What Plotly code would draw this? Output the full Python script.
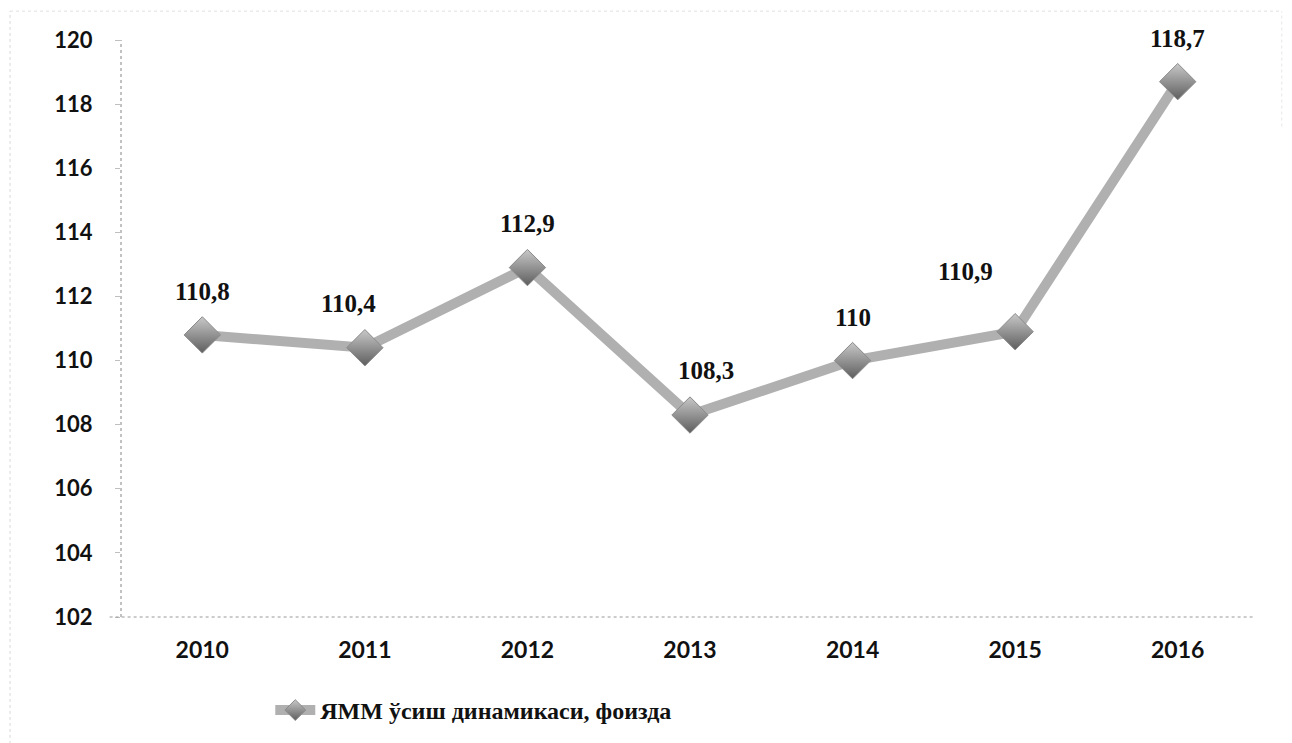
import plotly.graph_objects as go

years = ["2010", "2011", "2012", "2013", "2014", "2015", "2016"]
values = [110.8, 110.4, 112.9, 108.3, 110.0, 110.9, 118.7]
labels = ["110,8", "110,4", "112,9", "108,3", "110", "110,9", "118,7"]
series_name = "ЯММ ўсиш динамикаси, фоизда"
y_ticks = [102, 104, 106, 108, 110, 112, 114, 116, 118, 120]

# label offsets in pixels (xshift, yshift)
label_dx = [0, -16, 0, 16, 0, -50, 0]
label_dy = [43, 44, 44, 45, 43, 60, 43]

fig = go.Figure()
fig.add_trace(go.Scatter(
    x=years, y=values, name=series_name, mode="lines+markers",
    line=dict(color="#b0b0b0", width=10),
    marker=dict(symbol="diamond", size=28, color="#c8c8c8",
                gradient=dict(type="vertical", color="#5e5e5e"),
                line=dict(color="#8a8a8a", width=1)),
))

for i, (y, t, dx, dy) in enumerate(zip(values, labels, label_dx, label_dy)):
    fig.add_annotation(x=i, y=y, text=t, showarrow=False, xshift=dx, yshift=dy,
                       font=dict(family="Liberation Serif", size=25, color="#111111",
                                 weight="bold"))

dot = dict(color="#9a9a9a", width=1.2, dash="dot")
shapes = [
    dict(type="line", xref="paper", yref="paper", x0=0, x1=0, y0=0, y1=1, line=dot),
    dict(type="line", xref="paper", yref="paper", x0=-0.01, x1=0.9965, y0=0, y1=0, line=dot),
    # faint outer frame
    dict(type="line", xref="paper", yref="paper", x0=-0.0975, x1=-0.0975, y0=-0.22, y1=1.05,
         line=dict(color="#d8d8d8", width=1, dash="dot")),
    dict(type="line", xref="paper", yref="paper", x0=-0.0975, x1=1.02, y0=1.05, y1=1.05,
         line=dict(color="#e0e0e0", width=1, dash="dot")),
    dict(type="line", xref="paper", yref="paper", x0=1.02, x1=1.02, y0=0.85, y1=1.05,
         line=dict(color="#e6e6e6", width=1, dash="dot")),
]

fig.update_layout(
    width=1292, height=743,
    margin=dict(l=113, r=41, t=32, b=134),
    paper_bgcolor="white", plot_bgcolor="white",
    showlegend=True,
    legend=dict(orientation="h", x=0.31, xanchor="center", y=-0.162, yanchor="middle",
                font=dict(family="Liberation Serif", size=24, color="#111111", weight="bold"),
                itemwidth=40),
    shapes=shapes,
    xaxis=dict(type="category", range=[-0.5, 6.5], showgrid=False, zeroline=False,
               showline=False, ticks="",
               tickfont=dict(family="Lato", size=23, color="#111111", weight="bold"),
               ticklabelstandoff=17),
    yaxis=dict(range=[102, 120], tickvals=y_ticks, showgrid=False, zeroline=False,
               showline=False, ticks="outside", ticklen=5, tickcolor="#c0c0c0",
               tickfont=dict(family="Lato", size=22, color="#111111", weight="bold"),
               ticklabelstandoff=18),
)

fig.write_html("out.html")
